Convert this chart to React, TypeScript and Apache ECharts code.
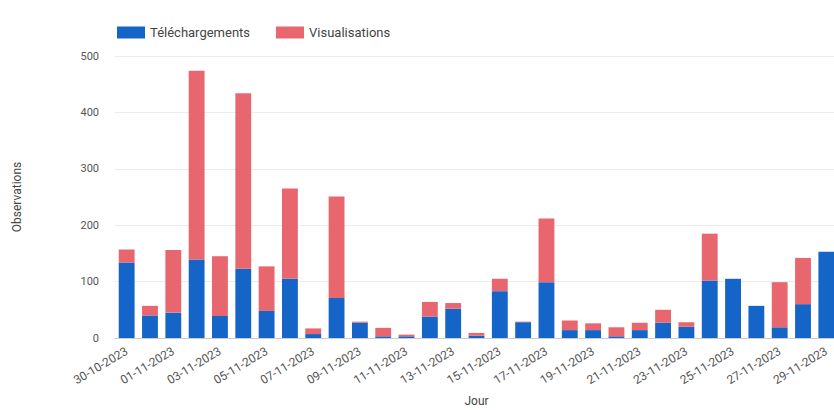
import React, { useEffect, useRef } from "react";
import * as echarts from "echarts";

const categories = [
  "30-10-2023", "31-10-2023", "01-11-2023", "02-11-2023", "03-11-2023", "04-11-2023",
  "05-11-2023", "06-11-2023", "07-11-2023", "08-11-2023", "09-11-2023", "10-11-2023",
  "11-11-2023", "12-11-2023", "13-11-2023", "14-11-2023", "15-11-2023", "16-11-2023",
  "17-11-2023", "18-11-2023", "19-11-2023", "20-11-2023", "21-11-2023", "22-11-2023",
  "23-11-2023", "24-11-2023", "25-11-2023", "26-11-2023", "27-11-2023", "28-11-2023",
  "29-11-2023",
];

const telechargements = [
  134, 40, 45, 139, 39, 123, 48, 105, 7, 71, 27, 3, 3, 38, 52, 4, 83, 28, 99, 14, 14, 3,
  14, 27, 20, 102, 105, 57, 19, 60, 153,
];

const visualisations = [
  23, 17, 111, 335, 106, 311, 79, 160, 10, 180, 2, 15, 3, 26, 10, 5, 22, 1, 113, 17, 12,
  16, 13, 23, 8, 83, 0, 0, 80, 82, 0,
];

const yTicks = [0, 100, 200, 300, 400, 500];

export default function App() {
  const ref = useRef<HTMLDivElement>(null);
  useEffect(() => {
    if (!ref.current) return;
    const chart = echarts.init(ref.current, undefined, { renderer: "svg" });
    chart.setOption({
      animation: false,
      textStyle: { fontFamily: "Roboto, Arial, sans-serif" },
      legend: {
        left: 112,
        top: 21,
        itemWidth: 28,
        itemHeight: 12,
        itemGap: 26,
        icon: "rect",
        textStyle: { fontSize: 13, color: "#444" },
        data: ["Téléchargements", "Visualisations"],
      },
      grid: {
        left: 115,
        right: -4,
        top: 56,
        bottom: 72,
        containLabel: false,
        outerBoundsMode: "none",
      },
      xAxis: {
        type: "category",
        data: categories,
        name: "Jour",
        nameLocation: "middle",
        nameGap: 57,
        nameTextStyle: { fontSize: 12, color: "#444" },
        axisTick: { show: false },
        axisLine: { lineStyle: { color: "#ccc" } },
        axisLabel: { interval: 1, rotate: 31, fontSize: 12, color: "#555", margin: 12 },
      },
      yAxis: {
        type: "value",
        min: yTicks[0],
        max: yTicks[yTicks.length - 1],
        interval: 100,
        name: "Observations",
        nameLocation: "middle",
        nameGap: 92,
        nameTextStyle: { fontSize: 12, color: "#444" },
        axisLabel: { fontSize: 11, color: "#555", margin: 16 },
        axisLine: { show: false },
        axisTick: { show: false },
        splitLine: { lineStyle: { color: "#ececec" } },
      },
      series: [
        {
          name: "Téléchargements",
          type: "bar",
          stack: "total",
          data: telechargements,
          barWidth: "68%",
          itemStyle: { color: "#1565c8" },
        },
        {
          name: "Visualisations",
          type: "bar",
          stack: "total",
          data: visualisations,
          barWidth: "68%",
          itemStyle: { color: "#e8676f" },
        },
      ],
    });
    return () => chart.dispose();
  }, []);
  return (
    <div
      ref={ref}
      style={{ position: "fixed", left: 0, top: 0, width: 834, height: 410, background: "#fff" }}
    />
  );
}
